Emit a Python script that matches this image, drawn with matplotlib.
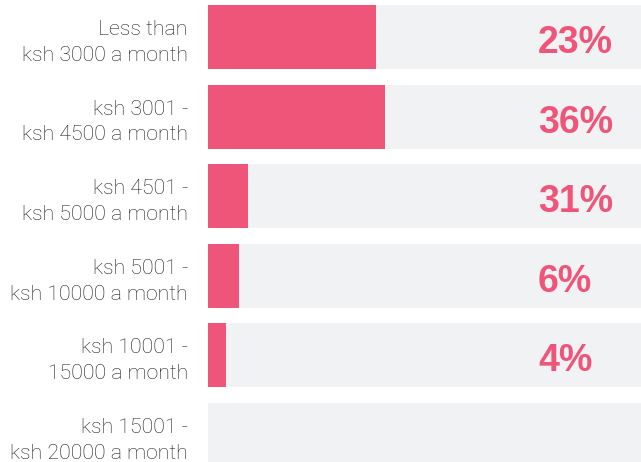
import matplotlib
matplotlib.use("Agg")
import matplotlib.pyplot as plt

categories = [
    "Less than\nksh 3000 a month",
    "ksh 3001 -\nksh 4500 a month",
    "ksh 4501 -\nksh 5000 a month",
    "ksh 5001 -\nksh 10000 a month",
    "ksh 10001 -\n15000 a month",
    "ksh 15001 -\nksh 20000 a month",
]
bar_values = [38.8, 40.9, 9.2, 7.2, 4.2, 0.0]
pct_labels = ["23%", "36%", "31%", "6%", "4%", ""]

W, H = 641, 462
fig = plt.figure(figsize=(W / 100, H / 100), dpi=100)
ax = fig.add_axes([208 / W, 0, 433 / W, 1])

pitch = 79.6
top_center = 37
ymin = -top_center / pitch
ymax = (H - top_center) / pitch

pos = list(range(len(categories)))
ax.barh(pos, [100] * len(pos), height=64 / pitch, color="#F1F2F4", left=0)
ax.barh(pos, bar_values, height=64 / pitch, color="#EF5579")

for i, t in enumerate(pct_labels):
    if t:
        ax.text(76.2, i + 0.2, t, ha="left", va="baseline",
                fontsize=27, fontweight="bold", color="#EF5579",
                family=["Liberation Sans", "DejaVu Sans"])

ax.set_xlim(0, 100)
ax.set_ylim(ymax, ymin)
ax.set_yticks(pos)
ax.set_yticklabels(categories, fontsize=15.3, color="#1e1e1e",
                   family=["Roboto", "DejaVu Sans"], fontweight="light",
                   linespacing=1.45, ha="right")
ax.tick_params(axis="y", length=0, pad=14.5)
ax.set_xticks([])
for s in ax.spines.values():
    s.set_visible(False)

fig.savefig("out.png", dpi=100)
